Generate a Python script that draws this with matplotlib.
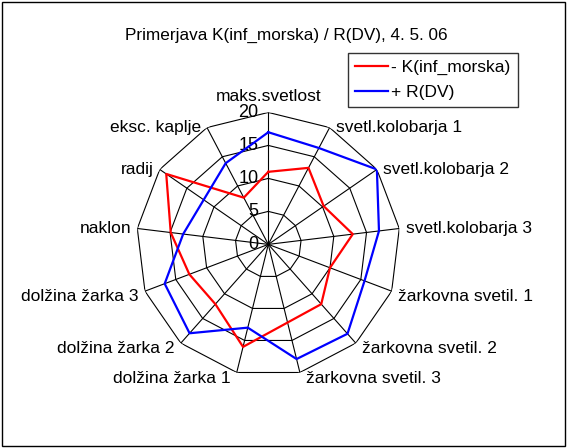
import numpy as np
import matplotlib.pyplot as plt
from matplotlib.patches import Rectangle

categories = [
    "maks.svetlost", "svetl.kolobarja 1", "svetl.kolobarja 2", "svetl.kolobarja 3",
    "žarkovna svetil. 1", "žarkovna svetil. 2", "žarkovna svetil. 3",
    "dolžina žarka 1", "dolžina žarka 2", "dolžina žarka 3",
    "naklon", "radij", "eksc. kaplje",
]
k_inf_morska = [11.0, 13.1, 10.2, 12.9, 10.0, 12.1, 12.2, 16.0, 12.1, 12.8, 14.9, 18.8, 8.0]
r_dv = [17.0, 16.5, 20.0, 16.9, 15.6, 18.1, 17.9, 13.0, 18.0, 16.8, 13.0, 11.9, 13.9]
r_ticks = [0, 5, 10, 15, 20]

plt.rcParams['font.family'] = ['Liberation Sans', 'DejaVu Sans']

n = len(categories)
theta = np.arange(n) * 2 * np.pi / n
theta_closed = np.append(theta, theta[0])

fig = plt.figure(figsize=(5.67, 4.48), dpi=100)
fig.patches.append(Rectangle((0.004, 0.004), 0.992, 0.992, transform=fig.transFigure,
                             fill=False, edgecolor='black', linewidth=1.0))

ax = fig.add_axes([0.2404, 0.16, 0.4656, 0.589], projection='polar')
ax.set_theta_offset(np.pi / 2)
ax.set_theta_direction(-1)
ax.set_ylim(0, 20)
ax.grid(False)
ax.spines['polar'].set_visible(False)
ax.set_xticks([])
ax.set_yticks([])
ax.patch.set_alpha(0)

# polygon grid and spokes
for r in r_ticks[1:]:
    ax.plot(theta_closed, [r] * (n + 1), color='black', lw=0.8, zorder=1)
for t in theta:
    ax.plot([t, t], [0, 20], color='black', lw=0.8, zorder=1)

# radial labels
for r in r_ticks:
    ax.annotate(str(r), xy=(0, r), xytext=(-7, 0), textcoords='offset points',
                ha='right', va='center', fontsize=13)

# category labels
for t, lab in zip(theta, categories):
    s, c = np.sin(t), np.cos(t)
    if abs(s) < 0.1:
        ha, dx, dy, va = 'center', 0, 6, 'bottom'
    else:
        ha = 'left' if s > 0 else 'right'
        dx = 4.5 if s > 0 else -4.5
        dy = 0 if c > 0 else -4
        va = 'center'
    ax.annotate(lab, xy=(t, 20), xytext=(dx, dy), textcoords='offset points',
                ha=ha, va=va, fontsize=12.5, annotation_clip=False)

ax.plot(theta_closed, k_inf_morska + [k_inf_morska[0]], color='#FF0000', lw=1.6,
        label='- K(inf_morska)', zorder=3)
ax.plot(theta_closed, r_dv + [r_dv[0]], color='#0000FF', lw=1.6,
        label='+ R(DV)', zorder=3)

fig.text(0.505, 0.922, 'Primerjava K(inf_morska) / R(DV), 4. 5. 06',
         ha='center', va='center', fontsize=12.3)

leg = fig.legend(loc='upper left', bbox_to_anchor=(348 / 567, 1 - 53 / 448),
                 fontsize=12.5, frameon=True, fancybox=False, borderpad=0.4,
                 handlelength=1.9, handletextpad=0.2, labelspacing=0.55,
                 borderaxespad=0)
leg.get_frame().set_edgecolor('black')
leg.get_frame().set_linewidth(1.0)

fig.savefig('out.png', dpi=100)
